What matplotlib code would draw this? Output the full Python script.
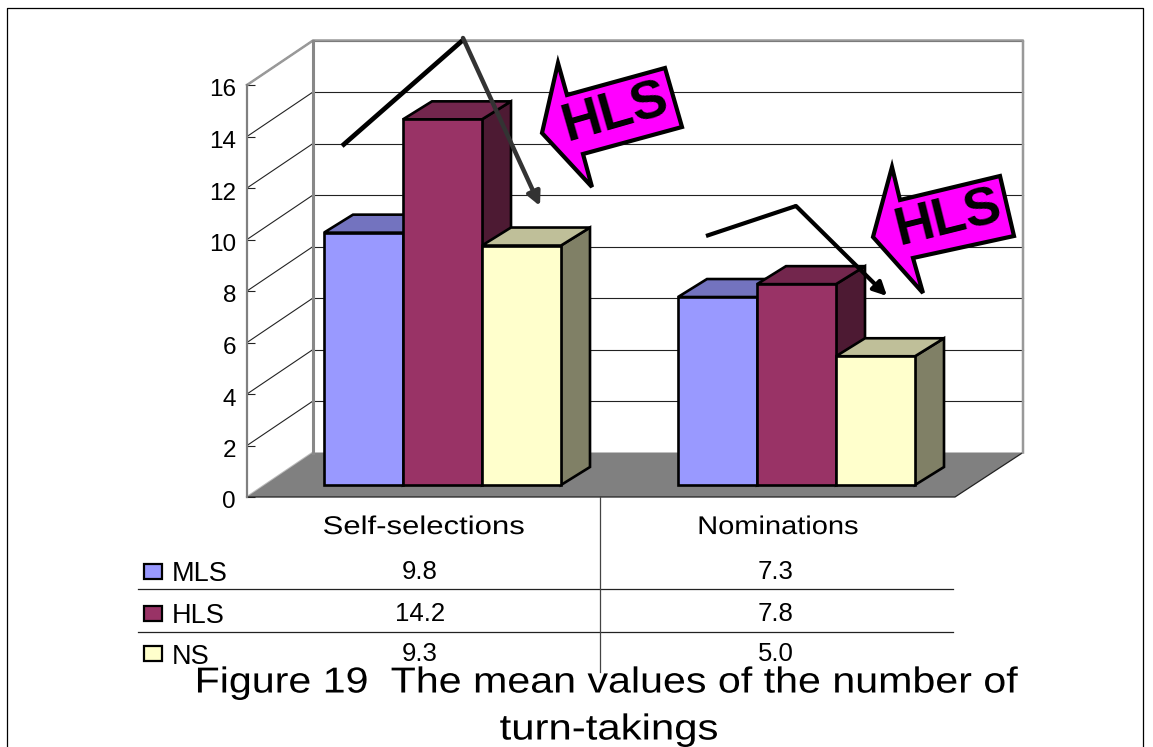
import matplotlib
matplotlib.use("Agg")
import matplotlib.pyplot as plt
from matplotlib.patches import Polygon
from matplotlib.patheffects import AbstractPathEffect
from matplotlib.transforms import Affine2D

plt.rcParams['font.family'] = ['Liberation Sans', 'DejaVu Sans']

categories = ["Self-selections", "Nominations"]
series = ["MLS", "HLS", "NS"]
mls = [9.8, 7.3]
hls = [14.2, 7.8]
ns = [9.3, 5.0]
yticks = [0, 2, 4, 6, 8, 10, 12, 14, 16]

W, H = 1153, 747


class Stretch(AbstractPathEffect):
    # the original text is letter spaced, widen it around its centre
    def __init__(self, sx, cx):
        super().__init__()
        self.sx = sx
        self.cx = cx

    def draw_path(self, renderer, gc, tpath, affine, rgbFace=None):
        widen = Affine2D().translate(-self.cx, 0).scale(self.sx, 1).translate(self.cx, 0)
        renderer.draw_path(gc, tpath, affine + widen, rgbFace)


fig = plt.figure(figsize=(W / 100, H / 100), dpi=100, facecolor='white')

# overlay in pixel coords for frame, arrows and callouts
top = fig.add_axes([0, 0, 1, 1], zorder=5)
top.set_xlim(0, W)
top.set_ylim(H, 0)
top.axis('off')

# front plane of the 3d box: x 247-955, y 497-85
ax = fig.add_axes([247 / W, 1 - 497 / H, 708 / W, 412 / H], zorder=2)
ax.set_xlim(-0.5, 1.5)
ax.set_ylim(0, 16)
ax.patch.set_alpha(0)
px = 354.0      # pixels per category
py = 412 / 16   # pixels per unit


def dx(p):
    return p / px


def dy(p):
    return p / py


# walls and floor
wall_l, wall_r, wall_h = dx(66), dx(68), dy(44.5)
floor = [(-0.5, 0), (1.5, 0), (1.5 + wall_r, wall_h), (-0.5 + wall_l, wall_h)]
for v in yticks[1:]:
    ax.plot([-0.5 + wall_l, 1.5 + wall_r], [v + wall_h, v + wall_h], color='#222222', lw=0.8, clip_on=False, zorder=1)
    ax.plot([-0.5, -0.5 + wall_l], [v, v + wall_h], color='#222222', lw=0.8, clip_on=False, zorder=1)
ax.add_patch(Polygon(floor, closed=True, fc='#808080', ec='none', clip_on=False, zorder=2))
ax.plot([-0.5, 1.5, 1.5 + wall_r], [0, 0, wall_h], color='#222222', lw=0.9, clip_on=False, zorder=2)
ax.plot([-0.5, -0.5 + wall_l, 1.5 + wall_r, 1.5 + wall_r],
        [16, 16 + wall_h, 16 + wall_h, wall_h], color='#999999', lw=1.8, clip_on=False, zorder=2)
ax.plot([-0.5 + wall_l, -0.5 + wall_l], [wall_h, 16 + wall_h], color='#888888', lw=2.2, clip_on=False, zorder=2)
ax.plot([-0.5, -0.5 + wall_l], [0, wall_h], color='#bbbbbb', lw=1.5, clip_on=False, zorder=1.5)

# bars
bar_w = 79 / px
shift_x, base = dx(18.5), dy(12)
bar_dx, bar_dy = dx(29), dy(18)
colors = [('#9999FF', '#7373BF', '#5C5C99'),
          ('#993366', '#73264D', '#4D1A33'),
          ('#FFFFCC', '#BFBF99', '#808066')]
values = [mls, hls, ns]
for i, (vals, (front, roof, side)) in enumerate(zip(values, colors)):
    for j, v in enumerate(vals):
        x0 = j + shift_x + (i - 1.5) * bar_w
        x1 = x0 + bar_w
        y1 = base + v
        z = 3 + i
        ax.add_patch(Polygon([(x1, base), (x1 + bar_dx, base + bar_dy), (x1 + bar_dx, y1 + bar_dy), (x1, y1)],
                             closed=True, fc=side, ec='black', lw=1.9, clip_on=False, zorder=z))
        ax.add_patch(Polygon([(x0, y1), (x1, y1), (x1 + bar_dx, y1 + bar_dy), (x0 + bar_dx, y1 + bar_dy)],
                             closed=True, fc=roof, ec='black', lw=1.9, clip_on=False, zorder=z))
        ax.bar(x0, v, bar_w, bottom=base, align='edge', color=front, edgecolor='black', lw=1.9, clip_on=False, zorder=z)

ax.set_yticks(yticks)
ax.set_yticklabels([str(t) for t in yticks], fontsize=17.5)
ax.set_xticks([0, 1])
ax.set_xticklabels(categories, fontsize=18.5)
ax.tick_params(axis='x', length=0, pad=13)
ax.tick_params(axis='y', direction='in', length=6, width=0.8, color='#222222', pad=8)
for s in ['top', 'right', 'bottom']:
    ax.spines[s].set_visible(False)
ax.spines['left'].set_color('#808080')
ax.spines['left'].set_linewidth(1.6)
# has to come after tick_params, that resets the label transform
for tick in ax.yaxis.get_major_ticks():
    tick.label1.set_transform(tick.label1.get_transform() + Affine2D().translate(0, -3))
for lbl, cx, sx in zip(ax.get_xticklabels(), [424, 777], [1.21, 1.13]):
    lbl.set_path_effects([Stretch(sx, cx)])

# data table under the chart
row_y = [572, 614, 654]
name_y = [574, 616, 657]
col_x = [420, 776]
for y in [589, 632]:
    top.plot([138, 953], [y, y], color='#222222', lw=0.9)
top.plot([600, 600], [497, 672], color='#444444', lw=0.9)
for name, vals, y, ny, c in zip(series, values, row_y, name_y, colors):
    top.add_patch(Polygon([(144, y - 8), (162, y - 8), (162, y + 7), (144, y + 7)], closed=True,
                          fc=c[0], ec='black', lw=1.6))
    top.text(172, ny, name, fontsize=19.5, va='center', ha='left')
    for x, v in zip(col_x, vals):
        top.text(x, y, f"{v:.1f}", fontsize=18.5, va='center', ha='center')

# hand drawn arrows
top.plot([342, 463], [146, 40], color='black', lw=3.4, solid_capstyle='butt')
top.annotate('', xy=(540, 206), xytext=(463, 38),
             arrowprops=dict(arrowstyle='-|>,head_width=0.4,head_length=0.8', color='#333333', lw=3.2, shrinkA=0, shrinkB=0))
top.plot([706, 796], [236, 206], color='black', lw=3, solid_capstyle='butt')
top.annotate('', xy=(887, 296), xytext=(796, 206),
             arrowprops=dict(arrowstyle='-|>,head_width=0.4,head_length=0.8', color='black', lw=3, shrinkA=0, shrinkB=0))

# HLS callouts
callouts = [
    ([(665, 68), (682, 127), (583, 154), (592, 187), (542, 133), (558, 63), (567, 95)], (615, 113), 16),
    ([(1000, 176), (1014, 236), (913, 258), (923, 293), (873, 237), (892, 167), (900, 200)], (948, 219), 14),
]
for pts, (tx, ty), rot in callouts:
    top.add_patch(Polygon(pts, closed=True, fc='#FF00FF', ec='black', lw=3, joinstyle='miter'))
    top.text(tx, ty, "HLS", fontsize=39, fontweight='bold', rotation=rot, rotation_mode='anchor',
             ha='center', va='center', color='black')

# page frame
top.plot([7, 7, 1143, 1143], [747, 8, 8, 747], color='black', lw=0.9, clip_on=False)

# caption
cap1 = top.text(606, 683, "Figure 19  The mean values of the number of", fontsize=26, ha='center', va='center')
cap2 = top.text(609, 730, "turn-takings", fontsize=26, ha='center', va='center')
cap1.set_path_effects([Stretch(1.14, 606)])
cap2.set_path_effects([Stretch(1.16, 609)])

fig.savefig("out.png", dpi=100)
